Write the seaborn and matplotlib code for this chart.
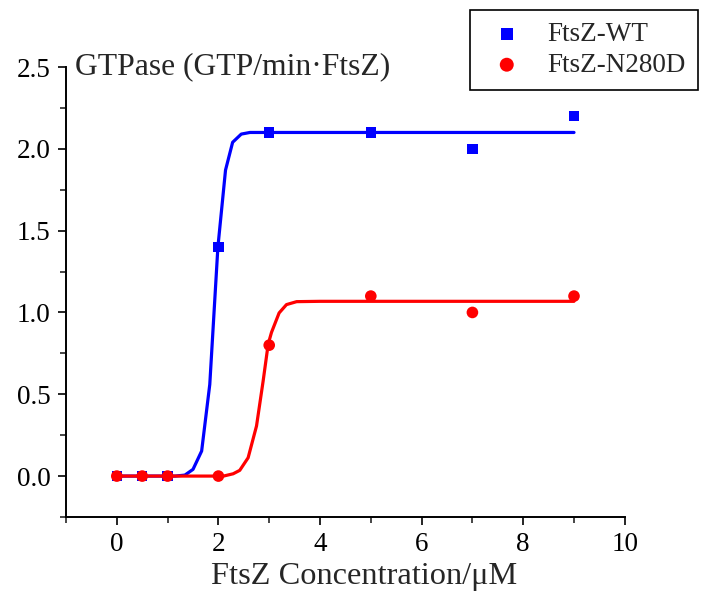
import matplotlib
matplotlib.use("Agg")
import matplotlib.pyplot as plt
import seaborn as sns
from matplotlib.ticker import MultipleLocator

# measured points
conc = [0, 0.5, 1, 2, 3, 5, 7, 9]
wt = [0, 0, 0, 1.4, 2.1, 2.1, 2.0, 2.2]
n280d = [0, 0, 0, 0, 0.8, 1.1, 1.0, 1.1]

# fitted curves (vertices)
wt_fit_x = [0, 1.15, 1.34, 1.50, 1.67, 1.83, 1.99, 2.14, 2.28, 2.45, 2.62, 3.0, 9.0]
wt_fit_y = [0, 0, 0.006, 0.041, 0.153, 0.56, 1.40, 1.87, 2.04, 2.09, 2.10, 2.10, 2.10]
n_fit_x = [0, 2.10, 2.29, 2.42, 2.585, 2.75, 2.88, 2.98, 3.045, 3.195, 3.34, 3.54, 4.0, 9.0]
n_fit_y = [0, 0, 0.014, 0.035, 0.112, 0.306, 0.58, 0.807, 0.878, 0.997, 1.048, 1.066, 1.068, 1.068]

sns.set_style("ticks")
plt.rcParams['font.family'] = ['Liberation Serif', 'DejaVu Serif']

fig = plt.figure(figsize=(7.06, 6.01), dpi=100)
ax = fig.add_axes([0.0935, 0.1398, 0.7915, 0.7487])

sns.lineplot(x=wt_fit_x, y=wt_fit_y, color="#0000ff", lw=2.3, ax=ax, legend=False)
sns.lineplot(x=n_fit_x, y=n_fit_y, color="#ff0000", lw=2.3, ax=ax, legend=False)
sns.scatterplot(x=conc, y=wt, marker="s", color="#0000ff", s=55, edgecolor="none",
                ax=ax, label="FtsZ-WT", zorder=3)
sns.scatterplot(x=conc, y=n280d, marker="o", color="#ff0000", s=70, edgecolor="none",
                ax=ax, label="FtsZ-N280D", zorder=3)

ax.set_xlim(-1, 10)
ax.set_ylim(-0.25, 2.5)
ax.xaxis.set_minor_locator(MultipleLocator(1))
ax.yaxis.set_minor_locator(MultipleLocator(0.25))
ax.set_xticks([0, 2, 4, 6, 8, 10])
ax.set_yticks([0, 0.5, 1.0, 1.5, 2.0, 2.5])
ax.set_yticklabels(["0.0", "0.5", "1.0", "1.5", "2.0", "2.5"])
ax.tick_params(which="major", direction="out", length=6, width=1.2, labelsize=19.5,
               colors="black", pad=5)
ax.tick_params(which="minor", direction="out", length=4, width=1.2)
sns.despine(ax=ax)
for s in ["left", "bottom"]:
    ax.spines[s].set_linewidth(1.4)
    ax.spines[s].set_color("black")

ax.set_xlabel("FtsZ Concentration/μM", fontsize=23.3)
ax.xaxis.set_label_coords(0.533, -0.1)
ax.set_ylabel("")
ax.text(-0.83, 2.5, "GTPase (GTP/min·FtsZ)", fontsize=22.8, va="center", ha="left")

ax.get_legend().remove()
h, l = ax.get_legend_handles_labels()
leg = fig.legend(h, l, loc="upper left", bbox_to_anchor=(0.666, 0.983), fontsize=19.5,
                 frameon=True, fancybox=False, edgecolor="black", framealpha=1,
                 handletextpad=0.6, borderpad=0.45, labelspacing=0.2, borderaxespad=0,
                 handlelength=1.8, markerscale=1.2)
leg.get_frame().set_linewidth(1.2)

fig.savefig("out.png", dpi=100)
